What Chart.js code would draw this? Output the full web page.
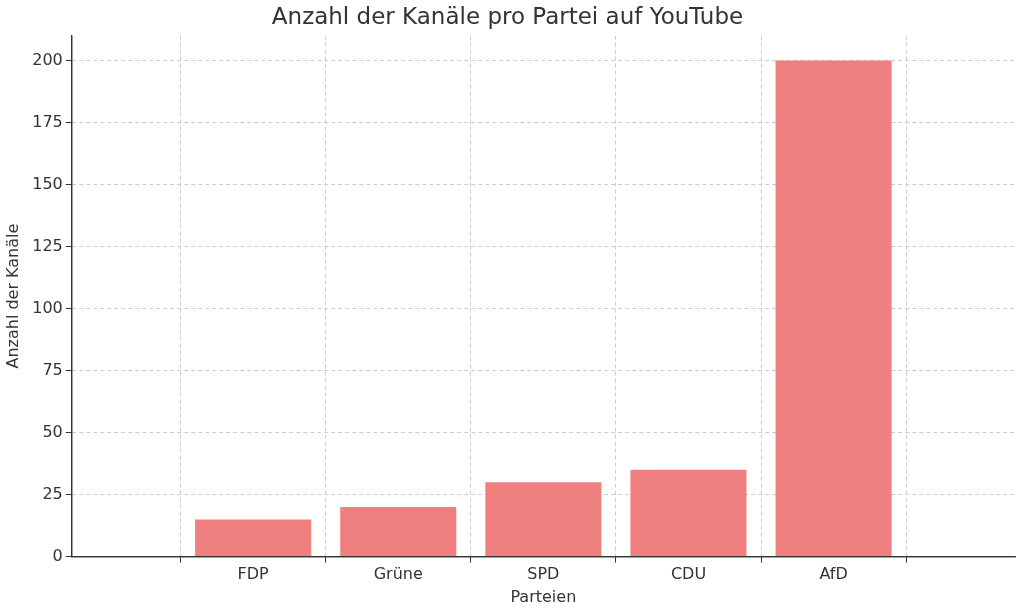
<!DOCTYPE html>
<html><head><meta charset="utf-8">
<script src="https://cdn.jsdelivr.net/npm/chart.js@4"></script>
<style>html,body{margin:0;background:#fff}#w{width:1024px;height:611px}</style>
</head><body><div id="w"><canvas id="c"></canvas></div>
<script>
const categories = ["FDP", "Grüne", "SPD", "CDU", "AfD"];
const channelCounts = [15, 20, 30, 35, 200];
const yTicks = [0, 25, 50, 75, 100, 125, 150, 175, 200];
const font = "'DejaVu Sans', sans-serif";
new Chart(document.getElementById('c'), {
  type: 'bar',
  data: { datasets: [{ data: channelCounts.map((v, i) => ({ x: i, y: v })), backgroundColor: '#F08080', categoryPercentage: 1, barPercentage: 0.8 }] },
  options: {
    responsive: true, maintainAspectRatio: false, animation: false,
    layout: { padding: { right: 9, top: 0, left: 0, bottom: 0 } },
    plugins: {
      legend: { display: false }, tooltip: { enabled: false },
      title: { display: true, text: 'Anzahl der Kanäle pro Partei auf YouTube', color: '#333', font: { family: font, size: 23, weight: 'normal' }, padding: { top: 4, bottom: 4 } }
    },
    scales: {
      x: {
        type: 'linear', min: -0.6, max: 4.6,
        afterBuildTicks: ax => { ax.ticks = categories.map((c, i) => ({ value: i })); },
        grid: { color: '#ccc', tickLength: 6, tickColor: '#333' },
        border: { color: '#333', width: 1.2, dash: [4, 3] },
        ticks: { color: '#333', font: { family: font, size: 16 }, callback: v => categories[v] },
        title: { display: true, text: 'Parteien', color: '#333', font: { family: font, size: 16 }, padding: { top: 0 } }
      },
      y: {
        min: 0, max: 210,
        afterBuildTicks: ax => { ax.ticks = yTicks.map(v => ({ value: v })); },
        grid: { color: '#ccc', tickLength: 6, tickColor: '#333' },
        border: { color: '#333', width: 1.2, dash: [4, 3] },
        ticks: { color: '#333', font: { family: font, size: 16 } },
        title: { display: true, text: 'Anzahl der Kanäle', color: '#333', font: { family: font, size: 16 }, padding: { bottom: 6 } }
      }
    }
  },
  plugins: [{
    id: 'axisLines',
    afterDraw(ch) {
      const { ctx, chartArea: a } = ch;
      ctx.save(); ctx.strokeStyle = '#333'; ctx.lineWidth = 1.2; ctx.setLineDash([]);
      ctx.beginPath(); ctx.moveTo(a.left, a.top); ctx.lineTo(a.left, a.bottom); ctx.lineTo(a.right, a.bottom); ctx.stroke();
      ctx.restore();
    }
  }]
});
</script></body></html>
